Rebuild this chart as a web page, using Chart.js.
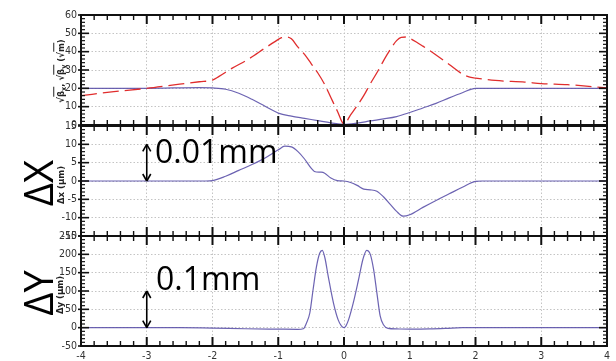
<!DOCTYPE html>
<html><head><meta charset="utf-8">
<script src="https://cdn.jsdelivr.net/npm/chart.js@4.4.1/dist/chart.umd.min.js"></script>
<style>
html,body{margin:0;padding:0;background:#fff}
#wrap{position:relative;width:616px;height:361px;overflow:hidden;background:#fff}
canvas{position:absolute;left:0;top:0}
.rot{position:absolute;white-space:nowrap;transform:translate(-50%,-50%) rotate(-90deg);color:#000;line-height:1}
.big{font-family:"Open Sans",sans-serif;font-size:40px}
.small{font-family:"DejaVu Sans Condensed","DejaVu Sans",sans-serif;font-size:9.5px;font-weight:bold;color:#222}
.ann{position:absolute;font-family:"Open Sans",sans-serif;font-size:32px;line-height:1;color:#000;white-space:nowrap}
.ov{border-top:1px solid #222;padding-top:1px}
sub{font-size:7px;line-height:0;vertical-align:-2px}
</style></head>
<body><div id="wrap">
<canvas id="c1" width="616" height="361"></canvas>
<canvas id="c2" width="616" height="361"></canvas>
<canvas id="c3" width="616" height="361"></canvas>
<div class="rot small" style="left:61px;top:71px">√<span class="ov">β<sub>x</sub></span>, √<span class="ov">β<sub>y</sub></span> (√<span class="ov">m</span>)</div>
<div class="rot big" style="left:38px;top:183px">ΔX</div>
<div class="rot small" style="left:61px;top:185px">Δx (μm)</div>
<div class="rot big" style="left:38px;top:293px">ΔY</div>
<div class="rot small" style="left:60px;top:295px">Δy (μm)</div>
<div class="ann" style="left:155px;top:134.5px">0.01mm</div>
<div class="ann" style="left:156px;top:262px">0.1mm</div>
</div>
<script>
// ---- data ----
const xTickLabels = ["-4","-3","-2","-1","0","1","2","3","4"];
const betaXpos = [-4,-3.5,-3,-2.5,-2.2,-2,-1.9,-1.7,-1.45,-1.2,-1.05,-0.95,-0.87,-0.8,-0.7,-0.6,-0.5,-0.4,-0.3,-0.2,-0.1,0,0.1,0.2,0.3,0.4,0.5,0.6,0.7,0.8,0.87,0.95,1.0,1.1,1.2,1.4,1.6,1.8,1.9,2.0,2.3,2.75,3.0,3.4,4];
const betaXval = [16,18.2,20,22.3,23.6,24.5,26.5,31,36,42,45.5,47.6,48,47,42.5,38.5,33.5,28.5,22.5,15,7.5,0.5,5.5,10.5,16,22.5,28.5,35,41,46,47.8,48,47.3,45.3,43,38.2,33,27.8,26.2,25.6,24.3,23.4,22.6,22,20.2];
const betaYpos = [-4,-3,-2.2,-2,-1.8,-1.6,-1.4,-1.2,-1.0,-0.8,-0.6,-0.4,-0.2,0,0.2,0.4,0.6,0.8,1.0,1.2,1.4,1.6,1.8,2.0,3,4];
const betaYval = [20,20,20.4,20.2,19.5,17.3,14,10.2,6.5,4.8,3.6,2.4,1.2,0.3,1.0,2.2,3.3,4.6,6.8,9.3,11.8,14.8,17.6,20,20,20];
const dxPos = [-4,-2.1,-2.0,-1.8,-1.6,-1.4,-1.2,-1.0,-0.9,-0.8,-0.7,-0.6,-0.5,-0.45,-0.35,-0.3,-0.2,-0.1,0,0.1,0.2,0.3,0.4,0.5,0.6,0.7,0.8,0.9,1.0,1.2,1.4,1.6,1.8,2.0,2.1,4];
const dxVal = [0,0,0.1,1.3,2.9,4.5,6.3,8.5,9.5,9.3,8.0,6.0,3.5,2.6,2.4,2.2,0.8,0.1,0,-0.4,-1.2,-2.2,-2.4,-2.8,-4.3,-6.3,-8.3,-9.6,-9.2,-7.2,-5.3,-3.5,-1.7,-0.1,0,0];
const dyPos = [-4,-2.5,-2.0,-1.5,-1.0,-0.7,-0.62,-0.57,-0.52,-0.47,-0.42,-0.37,-0.33,-0.29,-0.24,-0.16,-0.09,-0.04,0,0.03,0.07,0.14,0.22,0.29,0.345,0.4,0.45,0.5,0.55,0.6,0.67,0.8,1.0,1.3,1.55,1.8,4];
const dyVal = [0,0,-1,-3,-4,-4.5,-3,13,40,104,165,203,211,190,140,67,22,5,0,5,22,67,130,188,211,200,159,95,32,8,-2,-3.5,-4,-3.5,-2,0,0];
const arrowX = -3;
const arrowDX = [0,10];
const arrowDY = [0,100];

function pts(xs, ys){ return xs.map((v,i)=>({x:v,y:ys[i]})); }

const RED = 'rgb(224,45,45)';
const BLUE = 'rgba(92,82,170,0.9)';
const tickFont = {family:'"Liberation Sans Narrow","DejaVu Sans Condensed",sans-serif', size:10.5};

const framePlugin = {
  id:'frame',
  afterDraw(chart, args, o){
    const ctx = chart.ctx, a = chart.chartArea, x = chart.scales.x, y = chart.scales.y;
    ctx.save();
    ctx.strokeStyle = '#111';
    const line=(x1,y1,x2,y2)=>{ctx.beginPath();ctx.moveTo(x1,y1);ctx.lineTo(x2,y2);ctx.stroke();};
    const nx = Math.round((x.max-x.min)/0.2);
    for(let i=0;i<=nx;i++){
      const v = x.min + i*0.2, p = x.getPixelForValue(v), major = i%5===0;
      ctx.lineWidth = major?2:1.4;
      const L = major?9:5;
      line(p,a.top,p,a.top+L); line(p,a.bottom,p,a.bottom-L);
    }
    const minor = o.step/5, ny = Math.round((y.max-y.min)/minor);
    for(let i=0;i<=ny;i++){
      const v = y.min + i*minor, p = y.getPixelForValue(v), major = i%5===0;
      ctx.lineWidth = major?1.6:1.2;
      const L = major?8:4;
      line(a.left-(major?3:0),p,a.left+L,p); line(a.right,p,a.right-L,p);
    }
    ctx.lineWidth = 2;
    ctx.strokeRect(a.left,a.top,a.right-a.left,a.bottom-a.top);
    if(o.arrow){
      const ax = x.getPixelForValue(arrowX);
      const y0 = y.getPixelForValue(o.arrow[0]), y1 = y.getPixelForValue(o.arrow[1]);
      ctx.lineWidth = 1.6; ctx.strokeStyle='#000';
      line(ax,y0,ax,y1);
      line(ax-4,y1+7,ax,y1); line(ax+4,y1+7,ax,y1);
      line(ax-4,y0-7,ax,y0); line(ax+4,y0-7,ax,y0);
    }
    ctx.restore();
  }
};

function panel(id, datasets, yMin, yMax, yStep, top, bottom, showX, arrow){
  const xAxisH = showX ? 15 : 0;
  return new Chart(document.getElementById(id), {
    type:'line',
    data:{datasets},
    plugins:[framePlugin],
    options:{
      responsive:false, animation:false, events:[],
      layout:{padding:{left:41,right:9,top:top,bottom:361-bottom-xAxisH}},
      plugins:{legend:{display:false},tooltip:{enabled:false},frame:{step:yStep,arrow:arrow}},
      elements:{point:{radius:0}},
      scales:{
        x:{type:'linear',min:-4,max:4,
           afterBuildTicks:s=>{s.ticks=xTickLabels.map(t=>({value:parseFloat(t)}));},
           afterFit:s=>{s.height=xAxisH;},
           grid:{color:'#c4c4c4',lineWidth:1,drawTicks:false},
           border:{display:false,dash:[1.5,2]},
           ticks:{display:showX,padding:4,color:'#333',font:tickFont,maxRotation:0,
                  callback:(v)=>xTickLabels[xTickLabels.indexOf(String(v))] ?? String(v)}},
        y:{type:'linear',min:yMin,max:yMax,
           afterFit:s=>{s.width=40;},
           grid:{color:'#c4c4c4',lineWidth:1,drawTicks:false},
           border:{display:false,dash:[1.5,2]},
           ticks:{stepSize:yStep,padding:4,color:'#333',font:tickFont}}
      }
    }
  });
}

panel('c1',[
  {data:pts(betaXpos,betaXval),borderColor:RED,borderWidth:1.3,borderDash:[16,6],cubicInterpolationMode:'monotone',fill:false},
  {data:pts(betaYpos,betaYval),borderColor:BLUE,borderWidth:1.2,cubicInterpolationMode:'monotone',fill:false}
],0,60,10,15,125,false,null);

panel('c2',[
  {data:pts(dxPos,dxVal),borderColor:BLUE,borderWidth:1.2,cubicInterpolationMode:'monotone',fill:false}
],-15,15,5,126,236,false,arrowDX);

panel('c3',[
  {data:pts(dyPos,dyVal),borderColor:BLUE,borderWidth:1.2,cubicInterpolationMode:'monotone',fill:false}
],-50,250,50,236,346,true,arrowDY);
</script>
</body></html>
